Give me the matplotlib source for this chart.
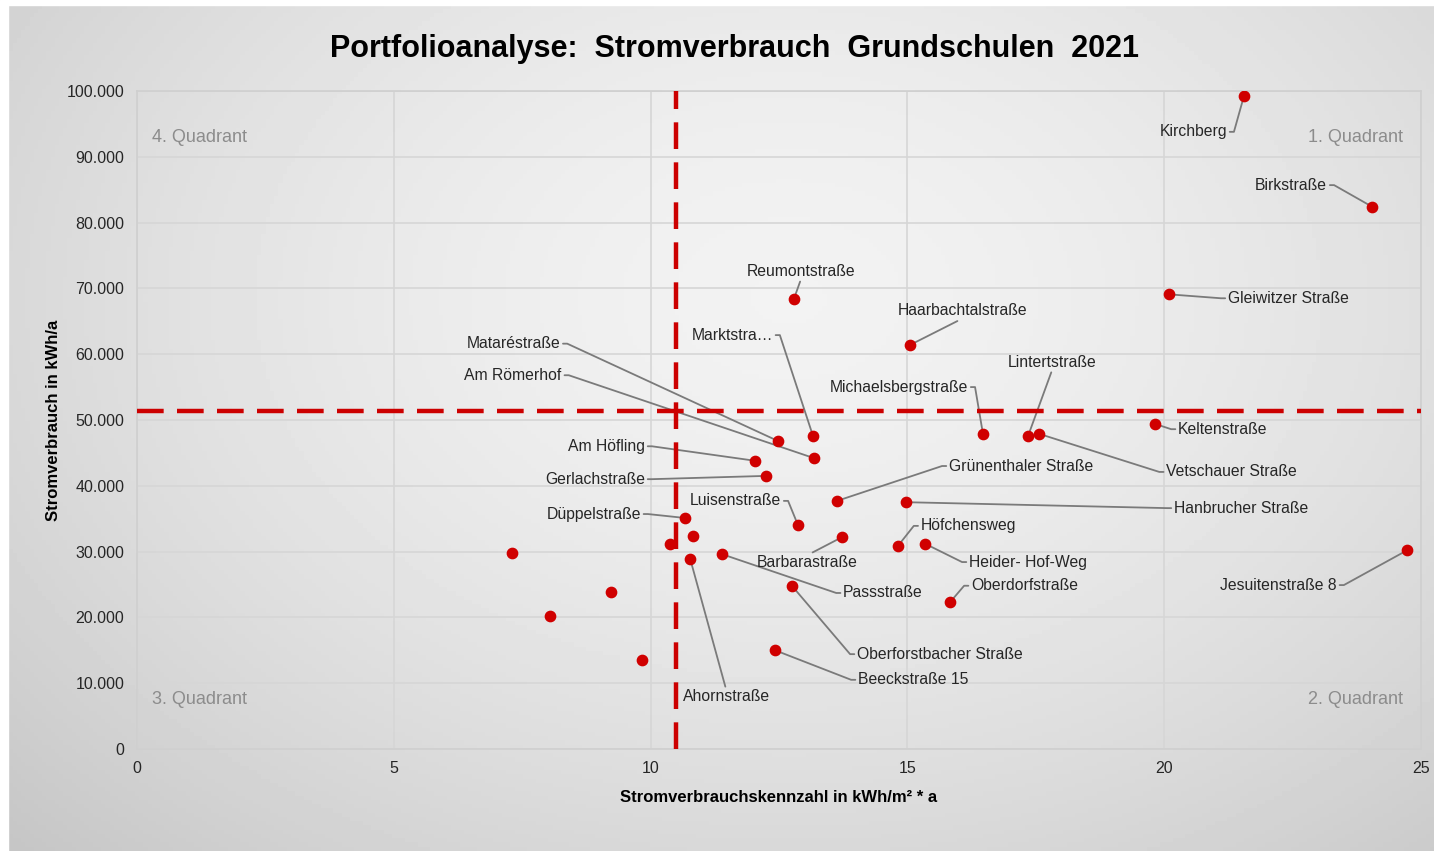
import matplotlib
matplotlib.use("Agg")
import matplotlib.pyplot as plt
import numpy as np
from matplotlib.ticker import FuncFormatter, MultipleLocator

# --- Daten: Grundschulen, Kennzahl (kWh/m2*a) und Verbrauch (kWh/a)
schulen = ["Kirchberg", "Birkstraße", "Gleiwitzer Straße", "Reumontstraße",
           "Haarbachtalstraße", "Marktstra…", "Mataréstraße", "Am Römerhof",
           "Am Höfling", "Gerlachstraße", "Düppelstraße", "", "", "",
           "Ahornstraße", "Passstraße", "Barbarastraße", "Luisenstraße",
           "Grünenthaler Straße", "Oberforstbacher Straße", "Beeckstraße 15",
           "", "", "", "Michaelsbergstraße", "Lintertstraße", "Vetschauer Straße",
           "Keltenstraße", "Hanbrucher Straße", "Höfchensweg", "Heider- Hof-Weg",
           "Oberdorfstraße", "Jesuitenstraße 8"]
kennzahl = [21.55, 24.05, 20.09, 12.79, 15.05, 13.16, 12.48, 13.18, 12.03, 12.25,
            10.67, 10.83, 10.38, 7.30, 10.77, 11.39, 13.73, 12.87, 13.63, 12.75,
            12.42, 9.23, 8.04, 9.83, 16.47, 17.35, 17.56, 19.82, 14.97, 14.82,
            15.34, 15.83, 24.73]
verbrauch = [99200, 82400, 69100, 68400, 61400, 47600, 46800, 44200, 43800, 41500,
             35100, 32400, 31200, 29800, 28900, 29600, 32200, 34000, 37700, 24800,
             15000, 23900, 20200, 13500, 47900, 47600, 47900, 49400, 37500, 30900,
             31200, 22300, 30200]
mittel_kennzahl = 10.49
mittel_verbrauch = 51400

# --- Lage der Beschriftungen (Textposition, Seite der Verbindungslinie)
beschriftung = {
    "Kirchberg": (21.22, 93800, "r"),
    "Birkstraße": (23.17, 85700, "r"),
    "Gleiwitzer Straße": (21.24, 68500, "l"),
    "Reumontstraße": (12.93, 72600, "o"),
    "Haarbachtalstraße": (16.08, 66600, "o"),
    "Marktstra…": (12.38, 62900, "r"),
    "Mataréstraße": (8.24, 61600, "r"),
    "Am Römerhof": (8.27, 56800, "r"),
    "Am Höfling": (9.89, 46000, "r"),
    "Gerlachstraße": (9.89, 41000, "r"),
    "Düppelstraße": (9.81, 35700, "r"),
    "Luisenstraße": (12.54, 37700, "r"),
    "Barbarastraße": (13.05, 28300, "u"),
    "Passstraße": (13.75, 23700, "l"),
    "Oberforstbacher Straße": (14.02, 14400, "l"),
    "Beeckstraße 15": (14.04, 10500, "l"),
    "Ahornstraße": (11.47, 7900, "u"),
    "Michaelsbergstraße": (16.18, 55000, "r"),
    "Lintertstraße": (17.82, 58800, "o"),
    "Keltenstraße": (20.27, 48600, "l"),
    "Vetschauer Straße": (20.04, 42100, "l"),
    "Grünenthaler Straße": (15.81, 43000, "l"),
    "Hanbrucher Straße": (20.19, 36600, "l"),
    "Höfchensweg": (15.26, 33900, "l"),
    "Heider- Hof-Weg": (16.20, 28400, "l"),
    "Oberdorfstraße": (16.24, 24800, "l"),
    "Jesuitenstraße 8": (23.36, 24900, "r"),
}

plt.rcParams["font.family"] = ["Liberation Sans", "DejaVu Sans"]

fig = plt.figure(figsize=(14.34, 8.51), dpi=100)

# Hintergrund mit Verlauf
bg = fig.add_axes([0, 0, 1, 1], zorder=-10)
yy, xx = np.mgrid[0:1:200j, 0:1:340j]
r = np.sqrt(((xx - 0.55) / 0.75) ** 2 + ((yy - 0.35) / 0.9) ** 2)
grau = 0.95 - 0.17 * np.clip(r, 0, 1.2) ** 1.6
bg.imshow(grau, cmap="gray", vmin=0, vmax=1, aspect="auto", extent=[0, 1, 1, 0])
bg.axvspan(0, 0.0055, color="white")
bg.axhspan(0, 0.006, color="white")
bg.set_xlim(0, 1)
bg.set_ylim(1, 0)
bg.axis("off")

ax = fig.add_axes([0.0955, 0.12, 0.8955, 0.773])
ax.set_facecolor("none")

ax.scatter(kennzahl, verbrauch, s=55, color="#d00000", zorder=5)
ax.axvline(mittel_kennzahl, color="#cc0000", lw=3.2, dashes=(6, 3), zorder=4)
ax.axhline(mittel_verbrauch, color="#cc0000", lw=3.2, dashes=(6, 3), zorder=4)

for name, x, y in zip(schulen, kennzahl, verbrauch):
    if not name:
        continue
    tx, ty, seite = beschriftung[name]
    if seite == "r":
        ha, va, rel, cs = "right", "center", (1, 0.5), "arc,angleA=0,armA=7,rad=0"
    elif seite == "l":
        ha, va, rel, cs = "left", "center", (0, 0.5), "arc,angleA=180,armA=7,rad=0"
    elif seite == "o":
        ha, va, rel, cs = "center", "center", (0.5, 0), "arc3,rad=0"
    else:
        ha, va, rel, cs = "center", "center", (0.5, 1), "arc3,rad=0"
    ax.annotate(name, xy=(x, y), xytext=(tx, ty), ha=ha, va=va,
                fontsize=11.3, color="#262626",
                arrowprops=dict(arrowstyle="-", color="#7a7a7a", lw=1.3,
                                relpos=rel, connectionstyle=cs,
                                shrinkA=0, shrinkB=2),
                zorder=3)

# Quadranten
qfarbe = "#8c8c8c"
ax.text(0.3, 93000, "4. Quadrant", fontsize=13, color=qfarbe, ha="left", va="center")
ax.text(24.65, 93000, "1. Quadrant", fontsize=13, color=qfarbe, ha="right", va="center")
ax.text(0.3, 7500, "3. Quadrant", fontsize=13, color=qfarbe, ha="left", va="center")
ax.text(24.65, 7500, "2. Quadrant", fontsize=13, color=qfarbe, ha="right", va="center")

ax.set_xlim(0, 25)
ax.set_ylim(0, 100000)
ax.xaxis.set_major_locator(MultipleLocator(5))
ax.yaxis.set_major_locator(MultipleLocator(10000))
ax.yaxis.set_major_formatter(FuncFormatter(lambda v, p: f"{int(v):,}".replace(",", ".")))
ax.grid(True, color="#d6d6d6", lw=1.2)
ax.set_axisbelow(True)
for s in ax.spines.values():
    s.set_color("#cfcfcf")
    s.set_linewidth(1.2)
ax.tick_params(length=0, pad=9, labelsize=11.5, labelcolor="#262626")

ax.set_xlabel("Stromverbrauchskennzahl in kWh/m² * a", fontsize=12, fontweight="bold",
              labelpad=10)
ax.set_ylabel("Stromverbrauch in kWh/a", fontsize=12, fontweight="bold", labelpad=4)

fig.text(0.512, 0.943, "Portfolioanalyse:  Stromverbrauch  Grundschulen  2021",
         ha="center", va="center", fontsize=22, fontweight="bold", color="black")

fig.savefig("out.png", dpi=100)
